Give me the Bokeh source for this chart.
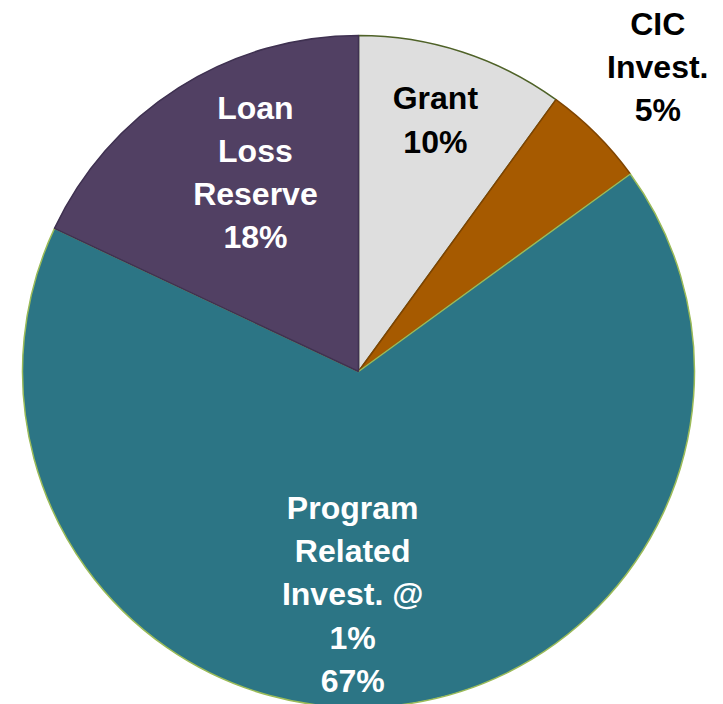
import math
from bokeh.plotting import figure
from bokeh.models import ColumnDataSource, Range1d
from bokeh.core.properties import value
from bokeh.embed import file_html
from bokeh.resources import INLINE

# ---- data ----
categories = ["Grant", "CIC Invest.", "Program Related Invest. @ 1%", "Loan Loss Reserve"]
shares = [10, 5, 67, 18]
label_texts = ["Grant\n10%", "CIC\nInvest.\n5%", "Program\nRelated\nInvest. @\n1%\n67%", "Loan\nLoss\nReserve\n18%"]

# ---- styles ----
fill_colors = ["#DEDEDE", "#A65A00", "#2C7585", "#514063"]
line_colors = ["#4F6228", "#7F4400", "#9BBB59", "#3F3151"]
text_colors = ["#000000", "#000000", "#FFFFFF", "#FFFFFF"]

# ---- layout (pixels) ----
W, H = 723, 704
CX, CY, R = 358, 333, 336
# label placement: (angle offset from slice mid in degrees, distance from centre in px)
label_polar = [(1.0, 263), (0.5, 427), (-6.9, 223), (-5.0, 224)]

total = float(sum(shares))
starts, ends, lx, ly = [], [], [], []
cum = 0.0
for i, s in enumerate(shares):
    a0 = math.pi / 2 - 2 * math.pi * cum / total
    cum += s
    a1 = math.pi / 2 - 2 * math.pi * cum / total
    starts.append(a1)
    ends.append(a0)
    mid = (a0 + a1) / 2 + math.radians(label_polar[i][0])
    lx.append(CX + label_polar[i][1] * math.cos(mid))
    ly.append(CY + label_polar[i][1] * math.sin(mid))

src = ColumnDataSource(dict(cat=categories, start=starts, end=ends,
                            fill=fill_colors, line=line_colors,
                            x=[CX] * 4, y=[CY] * 4))
lsrc = ColumnDataSource(dict(x=lx, y=ly, text=label_texts, color=text_colors))

p = figure(width=W, height=H, output_backend="svg", toolbar_location=None,
           x_range=Range1d(0, W), y_range=Range1d(0, H), min_border=0)
p.axis.visible = False
p.grid.visible = False
p.outline_line_color = None
p.background_fill_color = "white"
p.border_fill_color = "white"

p.wedge(x="x", y="y", radius=R, radius_units="screen", start_angle="start", end_angle="end",
        fill_color="fill", line_color="line", line_width=1.5, source=src)

p.text(x="x", y="y", text="text", text_color="color", source=lsrc,
       text_font=value("Liberation Sans"), text_font_style="bold", text_font_size="32px",
       text_align="center", text_baseline="middle", text_line_height=1.2)

open("out.html", "w").write(file_html(p, INLINE))
